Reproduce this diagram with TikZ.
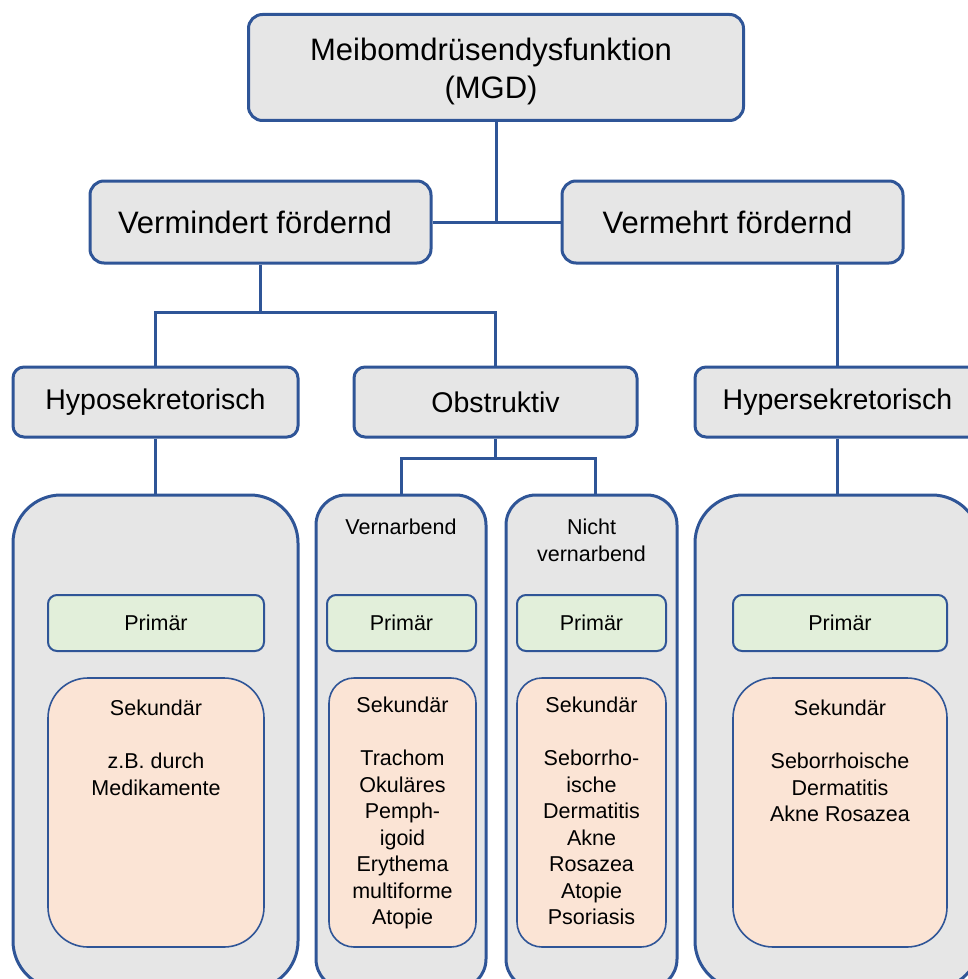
\documentclass[tikz,border=0pt]{standalone}
\usepackage{fontspec}
\setmainfont{Liberation Sans}
\definecolor{mgdblue}{HTML}{2F5597}
\definecolor{boxgray}{HTML}{E6E6E6}
\definecolor{primgreen}{HTML}{E2EFDA}
\definecolor{sekpeach}{HTML}{FBE4D5}
\begin{document}
\begin{tikzpicture}[x=1pt,y=-1pt,
  box/.style={draw=mgdblue, line width=3pt, fill=boxgray, rounded corners=14pt,
    align=center, inner sep=0pt},
  bigfont/.style={font=\fontsize{31}{38}\selectfont},
  midfont/.style={font=\fontsize{28.5}{33}\selectfont},
  smallfont/.style={font=\fontsize{21.5}{26.5}\selectfont},
  panel/.style={draw=mgdblue, line width=3pt, fill=boxgray, inner sep=0pt},
  primbox/.style={draw=mgdblue, line width=2pt, fill=primgreen, rounded corners=9pt,
    inner sep=0pt, minimum height=56pt, smallfont},
  sekbox/.style={draw=mgdblue, line width=1.6pt, fill=sekpeach, inner sep=0pt,
    minimum height=269pt},
  sektext/.style={anchor=north, align=center, inner sep=0pt, smallfont},
  conn/.style={draw=mgdblue, line width=3pt}
]
\useasboundingbox (0,0) rectangle (968,979);
\clip (0,0) rectangle (968,979);

% top levels
\node[box, minimum width=495pt, minimum height=106pt] (mgd) at (496,67.5) {};
\node[bigfont, align=center, inner sep=0pt] (mgdtxt) at (491,71)
  {Meibomdrüsendysfunktion\\(MGD)};
\node[box, bigfont, minimum width=341pt, minimum height=82pt] (vmin) at (260.5,222)
  {Vermindert fördernd\hspace*{11pt}};
\node[box, bigfont, minimum width=341pt, minimum height=82pt] (vmeh) at (732.5,222)
  {Vermehrt fördernd\hspace*{10pt}};

\node[box, midfont, rounded corners=11pt, minimum width=285pt, minimum height=70pt] (hypo) at (155.5,402)
  {Hyposekretorisch};
\node[box, midfont, rounded corners=11pt, minimum width=283pt, minimum height=70pt] (obs) at (495.5,402)
  {Obstruktiv};
\node[box, midfont, rounded corners=11pt, minimum width=285pt, minimum height=70pt] (hyper) at (837.5,402)
  {Hypersekretorisch};

% panels
\node[panel, rounded corners=48pt, minimum width=285pt, minimum height=494pt] (bigL) at (155.5,742) {};
\node[panel, rounded corners=30pt, minimum width=170pt, minimum height=494pt] (vern) at (401,742) {};
\node[panel, rounded corners=30pt, minimum width=171pt, minimum height=494pt] (nvern) at (591.5,742) {};
\node[panel, rounded corners=48pt, minimum width=285pt, minimum height=494pt] (bigR) at (837.5,742) {};

\node[smallfont, align=center, inner sep=0pt] (vernlbl) at (401,527) {Vernarbend};
\node[smallfont, align=center, inner sep=0pt] (nvernlbl) at (591.5,540.5) {Nicht\\vernarbend};

% connectors
\coordinate (j1) at (260.5,312);
\coordinate (j2) at (495.5,458);
\coordinate (j3) at (595.5,494);
\draw[conn] (mgd.south) -- (mgd.south |- vmin.east);
\draw[conn] (vmin.east) -- (vmeh.west);
\draw[conn] (vmin.south) -- (j1);
\draw[conn] (hypo.north) |- (j1) -| (obs.north);
\draw[conn] (hyper.north) -- (hyper.north |- vmeh.south);
\draw[conn] (obs.south) -- (j2);
\draw[conn] (vern.north) |- (j2) -| (j3);
\draw[conn] (hypo.south) -- (bigL.north);
\draw[conn] (hyper.south) -- (bigR.north);

% primary boxes
\node[primbox, minimum width=216pt] (pL) at (156,623) {Primär};
\node[primbox, minimum width=149pt] (pV) at (401.5,623) {Primär};
\node[primbox, minimum width=149pt] (pN) at (591.5,623) {Primär};
\node[primbox, minimum width=214pt] (pR) at (840,623) {Primär};

% secondary boxes
\node[sekbox, rounded corners=40pt, minimum width=216pt] (sL) at (156,812.5) {};
\node[sekbox, rounded corners=25pt, minimum width=147pt] (sV) at (402.5,812.5) {};
\node[sekbox, rounded corners=25pt, minimum width=149pt] (sN) at (591.5,812.5) {};
\node[sekbox, rounded corners=40pt, minimum width=214pt] (sR) at (840,812.5) {};

\node[sektext] (tL) at (156,700) {Sekundär\\[26.5pt]z.B. durch\\Medikamente};
\node[sektext] (tV) at (402.5,697) {Sekundär\\[26.5pt]Trachom\\Okuläres\\Pemph-\\igoid\\Erythema\\multiforme\\Atopie};
\node[sektext] (tN) at (591.5,697) {Sekundär\\[26.5pt]Seborrho-\\ische\\Dermatitis\\Akne\\Rosazea\\Atopie\\Psoriasis};
\node[sektext] (tR) at (840,700) {Sekundär\\[26.5pt]Seborrhoische\\Dermatitis\\Akne Rosazea};
\end{tikzpicture}
\end{document}
